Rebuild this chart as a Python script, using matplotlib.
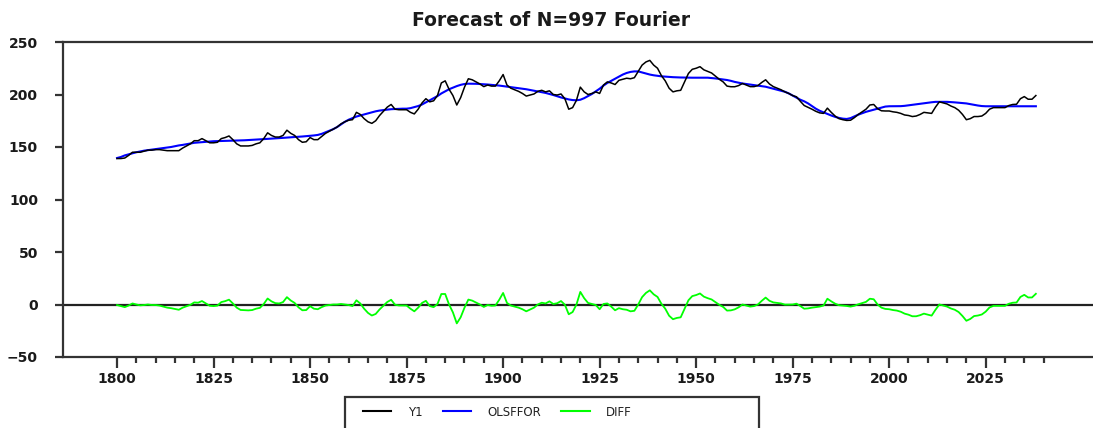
import numpy as np
import matplotlib
matplotlib.use("Agg")
import matplotlib.pyplot as plt
from matplotlib.ticker import FixedLocator
from matplotlib.patches import Rectangle
from matplotlib.lines import Line2D

# annual observations 1800-2038
years = np.arange(1800, 2039)

y1 = [
    139, 139, 139.5, 142, 145, 145, 145, 146, 147, 147,
    147.5, 147.5, 147, 146.5, 146.5, 146.5, 146.5, 149, 151, 153,
    156, 156, 158, 156, 154, 154, 154.5, 158, 159, 160.5,
    157, 153, 151, 151, 151, 151.5, 153, 154, 158, 163.5,
    161, 159.5, 159.5, 161, 166, 163, 161, 157, 154.5, 155,
    159, 157, 157, 160, 163, 165, 167, 169, 172, 174,
    175.5, 176, 183, 181, 177, 174, 172.5, 175, 180, 184,
    188, 190.5, 186, 185.5, 185.5, 185.5, 183, 181.5, 186, 192,
    196, 193, 194, 199, 211, 213, 205, 199, 190, 197,
    207, 215, 214, 212, 210, 207.5, 209, 208, 208, 213,
    219, 209, 206, 204.5, 203, 201, 198.5, 199.5, 200.5, 203,
    204, 202.5, 203.5, 200, 199.5, 200.5, 196, 186, 187.5, 194.5,
    207, 202.5, 200, 201, 202.5, 201, 209, 212, 211, 209.5,
    213.5, 214.5, 215.5, 215, 216, 222, 228, 231, 232.5, 228,
    225, 218, 213, 206, 202.5, 203.5, 204, 212, 220, 224,
    225, 226.5, 223.5, 222, 220.5, 217.5, 214.5, 212, 208, 207.4,
    207.4, 208.5, 210.5, 209, 207.5, 207.5, 208.5, 211.5, 214, 210,
    207.5, 206, 204.5, 202.5, 201, 199, 197.8, 193.5, 189.5, 187.8,
    186, 184, 182.5, 182, 187, 183, 179.5, 177, 176, 175.3,
    175.5, 178, 181, 183.5, 186, 190, 190.5, 186.5, 184.5, 184.3,
    184.3, 183.5, 183, 182, 180.5, 180, 179, 179.5, 181, 183,
    182.5, 182, 188, 193, 192, 191, 189, 187.5, 185, 181,
    176, 177, 179, 179, 179.5, 182, 186, 187.5, 187.5, 187.5,
    187.5, 189.5, 190.5, 190.7, 196, 198, 195.5, 195.5, 199,
]

olsffor = [
    139.5, 140.5, 142, 143, 144, 145, 145.8, 146.5, 147, 147.5,
    148, 148.5, 149, 149.5, 150, 150.8, 151.5, 152, 152.7, 153.3,
    154, 154.3, 154.7, 155, 155.2, 155.5, 155.6, 155.7, 155.8, 155.9,
    156, 156, 156.2, 156.4, 156.6, 156.8, 157, 157.2, 157.5, 157.8,
    158, 158.2, 158.5, 158.7, 159, 159.2, 159.5, 159.7, 160, 160.3,
    160.6, 161, 161.5, 162.5, 164, 165.5, 167, 169, 171.5, 174,
    176, 177.5, 179, 180, 181, 182, 183, 184, 184.7, 185.2,
    185.6, 186, 186.2, 186.4, 186.5, 186.5, 187, 188, 189, 190.5,
    192.5, 194.5, 196.5, 198.5, 201, 203, 205, 206.5, 208, 209.2,
    210, 210.3, 210.3, 210.2, 210, 209.8, 209.5, 209.2, 209, 208.5,
    208, 207.5, 207, 206.5, 206, 205.5, 205, 204.3, 203.5, 203,
    202.3, 201.5, 200.5, 199.5, 198.3, 197.2, 196.2, 195.3, 194.7, 194.5,
    195, 196.5, 198.5, 200.5, 203, 205.5, 208.5, 211, 213, 215,
    217, 219, 220.5, 221.5, 222, 222, 221, 220, 219, 218.3,
    217.8, 217.3, 217, 216.7, 216.5, 216.3, 216.2, 216.1, 216, 216,
    216, 216, 216, 216, 215.7, 215.3, 214.8, 214.3, 213.8, 213,
    212, 211.2, 210.5, 210, 209.5, 209, 208.5, 208, 207.4, 206.5,
    205.5, 204.5, 203.5, 202.6, 201, 199, 197, 195, 193.5, 191.5,
    189, 186.5, 184.5, 183, 181.5, 180, 178.7, 177.7, 177, 176.7,
    177.5, 179.2, 180.8, 182.2, 183.5, 184.5, 185.5, 186.5, 187.5, 188.5,
    188.8, 188.8, 188.8, 188.9, 189.2, 189.7, 190.2, 190.7, 191.2, 191.7,
    192.2, 192.6, 193, 193, 193, 193, 192.8, 192.5, 192.2, 192,
    191.5, 190.8, 190, 189.5, 189, 188.8, 188.8, 188.8, 188.8, 188.8,
    188.8, 188.8, 188.8, 188.8, 188.8, 188.8, 188.8, 188.8, 188.8,
]

# DIFF is the residual Y1 - OLSFFOR
diff = np.array(y1) - np.array(olsffor)

x_major = [1800, 1825, 1850, 1875, 1900, 1925, 1950, 1975, 2000, 2025]
x_minor = [v for v in range(1805, 2041, 5) if v % 25 != 0]
y_ticks = [-50, 0, 50, 100, 150, 200, 250]
names = ["Y1", "OLSFFOR", "DIFF"]
colors = ["#000000", "#0000ff", "#00ff00"]

W, H = 1093, 428
fig = plt.figure(figsize=(W / 100, H / 100), dpi=100)
ax = fig.add_axes([63 / W, 71 / H, 1 - 63 / W, 315 / H])

spine_col = "#333333"
ax.axhline(0, color="#222222", lw=1.6, zorder=1)
ax.plot(years, y1, color=colors[0], lw=1.1, zorder=3)
ax.plot(years, olsffor, color=colors[1], lw=1.5, zorder=2)
ax.plot(years, diff, color=colors[2], lw=1.3, zorder=2)

ax.set_xlim(1786, 2052.8)
ax.set_ylim(-50, 250)

ax.xaxis.set_major_locator(FixedLocator(x_major))
ax.xaxis.set_minor_locator(FixedLocator(x_minor))
ax.set_yticks(y_ticks)

for s in ["left", "bottom", "top"]:
    ax.spines[s].set_color(spine_col)
    ax.spines[s].set_linewidth(1.6)
ax.spines["right"].set_visible(False)

ax.tick_params(axis="x", which="major", direction="out", length=8, width=1.6,
               color=spine_col, pad=3, labelsize=10, labelcolor="#1a1a1a")
ax.tick_params(axis="x", which="minor", direction="out", length=4.5, width=1.6,
               color=spine_col)
ax.tick_params(axis="y", direction="out", length=6, width=1.6,
               color=spine_col, pad=12, labelsize=10, labelcolor="#1a1a1a")
for lab in ax.get_xticklabels() + ax.get_yticklabels():
    lab.set_fontweight("bold")

fig.text(551 / W, 1 - 21 / H, "Forecast of N=997 Fourier", ha="center",
         va="center", fontsize=13.5, fontweight="bold", color="#1a1a1a")

# legend box, cut by the bottom edge
fig.add_artist(Rectangle((345 / W, -0.1), 414 / W, 31 / H + 0.1,
                         transform=fig.transFigure, fill=False,
                         edgecolor=spine_col, lw=1.6, clip_on=False))
handles = [Line2D([], [], color=c, lw=1.5) for c in colors]
fig.legend(handles, names, loc="center left",
           bbox_to_anchor=(363 / W, (H - 412) / H),
           bbox_transform=fig.transFigure, ncol=3, frameon=False,
           borderpad=0, borderaxespad=0, handlelength=2.4,
           handletextpad=1.4, columnspacing=1.7, fontsize=8.5,
           labelcolor="#222222")

fig.savefig("out.png", dpi=100)
